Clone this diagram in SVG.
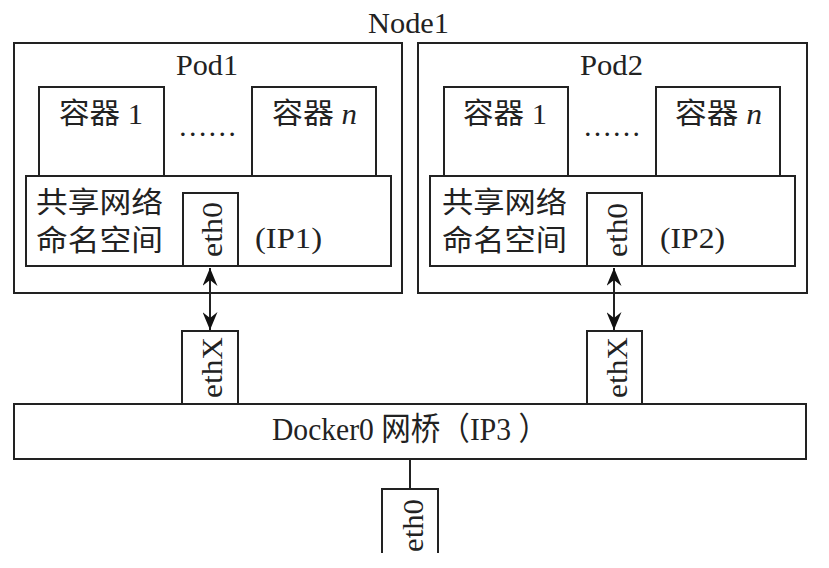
<svg xmlns="http://www.w3.org/2000/svg" width="829" height="568" viewBox="0 0 829 568">
<defs>
<style>
.box{fill:#fff;stroke:#222;stroke-width:2}
.t{font-family:"Liberation Serif","Noto Sans CJK SC",serif;font-size:29px;fill:#222}
.c{font-family:"Noto Sans CJK SC","Liberation Serif",sans-serif;font-size:29px;fill:#222}
.big{font-size:32px}
.nd{font-size:30px}
.ln{stroke:#222;stroke-width:2;fill:none}
</style>
<marker id="ah" viewBox="0 0 18 15" refX="18" refY="7.5" markerWidth="18" markerHeight="15" markerUnits="userSpaceOnUse" orient="auto-start-reverse">
<path d="M0,0 L18,7.5 L0,15 L6,7.5 z" fill="#111"/>
</marker>
</defs>
<rect width="829" height="568" fill="#fff"/>
<g id="node1-label">
<text class="t nd" x="368" y="33" textLength="81" lengthAdjust="spacingAndGlyphs">Node1</text>
</g>
<g id="pod1">
<rect class="box" x="14" y="43" width="388" height="250"/>
<text class="t" x="176" y="75" textLength="62" lengthAdjust="spacingAndGlyphs">Pod1</text>
<rect class="box" x="39" y="87" width="125" height="89"/>
<text class="t" x="59" y="124" textLength="84" lengthAdjust="spacingAndGlyphs">容器 1</text>
<text class="t" x="178" y="136" textLength="59" lengthAdjust="spacingAndGlyphs">……</text>
<rect class="box" x="252" y="87" width="124" height="89"/>
<text class="t" x="272" y="124" textLength="85" lengthAdjust="spacingAndGlyphs">容器 <tspan font-style="italic">n</tspan></text>
<rect class="box" x="26" y="176" width="365" height="90"/>
<text class="c" x="36" y="213" textLength="127" lengthAdjust="spacingAndGlyphs">共享网络</text>
<text class="c" x="36" y="251" textLength="127" lengthAdjust="spacingAndGlyphs">命名空间</text>
<rect class="box" x="183" y="193" width="55" height="73"/>
<text class="t" transform="translate(222,229.5) rotate(-90)" text-anchor="middle" textLength="55" lengthAdjust="spacingAndGlyphs">eth0</text>
<text class="t" x="255" y="248" textLength="67" lengthAdjust="spacingAndGlyphs">(IP1)</text>
</g>
<g id="pod2">
<rect class="box" x="418" y="43" width="389" height="250"/>
<text class="t" x="580" y="75" textLength="63" lengthAdjust="spacingAndGlyphs">Pod2</text>
<rect class="box" x="444" y="87" width="124" height="89"/>
<text class="t" x="463" y="124" textLength="84" lengthAdjust="spacingAndGlyphs">容器 1</text>
<text class="t" x="583" y="136" textLength="58" lengthAdjust="spacingAndGlyphs">……</text>
<rect class="box" x="656" y="87" width="124" height="89"/>
<text class="t" x="675" y="124" textLength="87" lengthAdjust="spacingAndGlyphs">容器 <tspan font-style="italic">n</tspan></text>
<rect class="box" x="430" y="176" width="365" height="90"/>
<text class="c" x="442" y="213" textLength="125" lengthAdjust="spacingAndGlyphs">共享网络</text>
<text class="c" x="442" y="251" textLength="125" lengthAdjust="spacingAndGlyphs">命名空间</text>
<rect class="box" x="587" y="193" width="55" height="73"/>
<text class="t" transform="translate(627,230) rotate(-90)" text-anchor="middle" textLength="54" lengthAdjust="spacingAndGlyphs">eth0</text>
<text class="t" x="660" y="248" textLength="65" lengthAdjust="spacingAndGlyphs">(IP2)</text>
</g>
<g id="ethx1">
<rect class="box" x="182" y="331" width="56" height="73"/>
<text class="t" transform="translate(222,367.5) rotate(-90)" text-anchor="middle" textLength="61" lengthAdjust="spacingAndGlyphs">ethX</text>
</g>
<g id="ethx2">
<rect class="box" x="587" y="331" width="55" height="73"/>
<text class="t" transform="translate(627,367.5) rotate(-90)" text-anchor="middle" textLength="61" lengthAdjust="spacingAndGlyphs">ethX</text>
</g>
<g id="docker0">
<rect class="box" x="14" y="404" width="792" height="55"/>
<text class="t big" x="272" y="440" textLength="276" lengthAdjust="spacingAndGlyphs">Docker0 网桥（IP3 ）</text>
</g>
<g id="host-eth0">
<path class="ln" d="M382,553 V489 H438 V553"/>
<text class="t" transform="translate(423,525.5) rotate(-90)" text-anchor="middle" textLength="53" lengthAdjust="spacingAndGlyphs">eth0</text>
</g>
<g id="connectors">
<line class="ln" x1="210" y1="268" x2="210" y2="330" marker-start="url(#ah)" marker-end="url(#ah)"/>
<line class="ln" x1="614" y1="268" x2="614" y2="330" marker-start="url(#ah)" marker-end="url(#ah)"/>
<line class="ln" x1="410" y1="459" x2="410" y2="489"/>
</g>
</svg>
